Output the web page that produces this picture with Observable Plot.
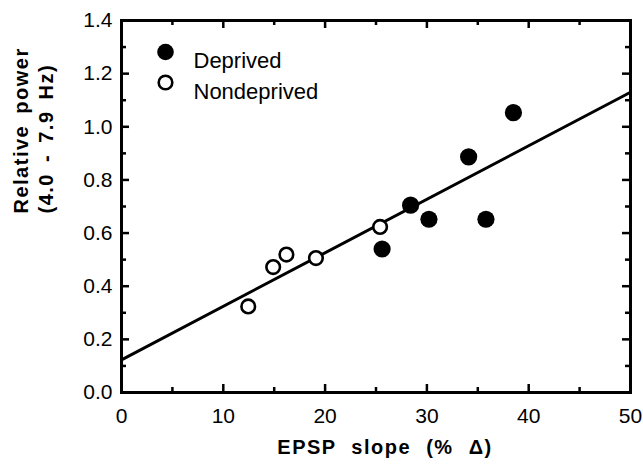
<!DOCTYPE html>
<html>
<head>
<meta charset="utf-8">
<script src="https://cdn.jsdelivr.net/npm/d3@7"></script>
<script src="https://cdn.jsdelivr.net/npm/@observablehq/plot@0.6"></script>
<style>
  html, body { margin: 0; padding: 0; background: #fff; }
</style>
</head>
<body>
<div id="chart"></div>
<script>
// Data
const deprivedX = [25.6, 28.4, 30.2, 34.1, 35.8, 38.5];
const deprivedY = [0.54, 0.705, 0.652, 0.887, 0.652, 1.053];
const nondeprivedX = [12.45, 14.9, 16.2, 19.1, 25.4];
const nondeprivedY = [0.324, 0.472, 0.519, 0.506, 0.623];
const fitX = [0, 50];
const fitY = [0.123, 1.13];
const xMajor = [0, 10, 20, 30, 40, 50];
const xMinor = [5, 15, 25, 35, 45];
const yMajor = [0, 0.2, 0.4, 0.6, 0.8, 1.0, 1.2, 1.4];
const yMinor = [0.1, 0.3, 0.5, 0.7, 0.9, 1.1, 1.3];
const legendLabels = ["Deprived", "Nondeprived"];
const xTitle = "EPSP slope (% Δ)";
const yTitle = "Relative power\n(4.0 - 7.9 Hz)";

const deprived = deprivedX.map((x, i) => ({x, y: deprivedY[i]}));
const nondeprived = nondeprivedX.map((x, i) => ({x, y: nondeprivedY[i]}));
const fit = fitX.map((x, i) => ({x, y: fitY[i]}));

const W = 643, H = 468, ML = 121, MR = 13, MT = 20, MB = 76;
const FW = W - ML - MR, FH = H - MT - MB;
const font = "'Liberation Sans', Arial, Helvetica, sans-serif";
const tk = {stroke: "#000", strokeWidth: 2.5};

const chart = Plot.plot({
  width: W,
  height: H,
  marginLeft: ML,
  marginRight: MR,
  marginTop: MT,
  marginBottom: MB,
  style: {fontFamily: font, color: "#000", background: "#fff"},
  x: {domain: [0, 50]},
  y: {domain: [0, 1.4]},
  marks: [
    // tick labels
    Plot.axisX({ticks: xMajor, tickSize: 0, tickPadding: 16, fontSize: 21, label: null}),
    Plot.axisY({ticks: yMajor, tickSize: 0, tickPadding: 9, fontSize: 21, tickFormat: d3.format(".1f"), label: null}),
    // inward ticks on all four sides
    Plot.tickX(xMajor, {x: d => d, insetTop: FH - 8, ...tk}),
    Plot.tickX(xMinor, {x: d => d, insetTop: FH - 5, ...tk}),
    Plot.tickX(xMajor, {x: d => d, insetBottom: FH - 8, ...tk}),
    Plot.tickX(xMinor, {x: d => d, insetBottom: FH - 5, ...tk}),
    Plot.tickY(yMajor, {y: d => d, insetRight: FW - 8, ...tk}),
    Plot.tickY(yMinor, {y: d => d, insetRight: FW - 5, ...tk}),
    Plot.tickY(yMajor, {y: d => d, insetLeft: FW - 8, ...tk}),
    Plot.tickY(yMinor, {y: d => d, insetLeft: FW - 5, ...tk}),
    Plot.frame({stroke: "#000", strokeWidth: 3}),
    // regression line
    Plot.line(fit, {x: "x", y: "y", stroke: "#000", strokeWidth: 3}),
    // points
    Plot.dot(nondeprived, {x: "x", y: "y", r: 6.8, stroke: "#000", strokeWidth: 2.6, fill: "#fff"}),
    Plot.dot(deprived, {x: "x", y: "y", r: 8.6, fill: "#000", stroke: "none"}),
    // legend
    Plot.dot([legendLabels[0]], {frameAnchor: "top-left", dx: 44, dy: 31.5, r: 8.3, fill: "#000"}),
    Plot.dot([legendLabels[1]], {frameAnchor: "top-left", dx: 44, dy: 62, r: 6.8, stroke: "#000", strokeWidth: 2.6, fill: "#fff"}),
    Plot.text([legendLabels[0]], {text: d => d, frameAnchor: "top-left", dx: 72, dy: 32, textAnchor: "start", fontSize: 22, fill: "#000"}),
    Plot.text([legendLabels[1]], {text: d => d, frameAnchor: "top-left", dx: 72, dy: 62.5, textAnchor: "start", fontSize: 22, fill: "#000"}),
    // axis titles
    Plot.text([xTitle], {text: d => d, frameAnchor: "bottom", dx: 9, dy: 61, fontSize: 20, fontWeight: "bold", fill: "#000"}),
    Plot.text([yTitle], {text: d => d, frameAnchor: "left", dx: -89, dy: 7, rotate: -90, fontSize: 20, lineHeight: 1.27, fontWeight: "bold", fill: "#000"})
  ]
});
// spacing of the bold axis titles, as in the reference typesetting
d3.select(chart).selectAll("text").each(function() {
  const t = this.textContent;
  if (t.startsWith("EPSP")) {
    this.style.letterSpacing = "1.5px";
    this.style.wordSpacing = "8px";
  } else if (t.startsWith("Relative")) {
    this.style.letterSpacing = "1.5px";
    this.style.wordSpacing = "4px";
  }
});
document.getElementById("chart").appendChild(chart);
</script>
</body>
</html>
